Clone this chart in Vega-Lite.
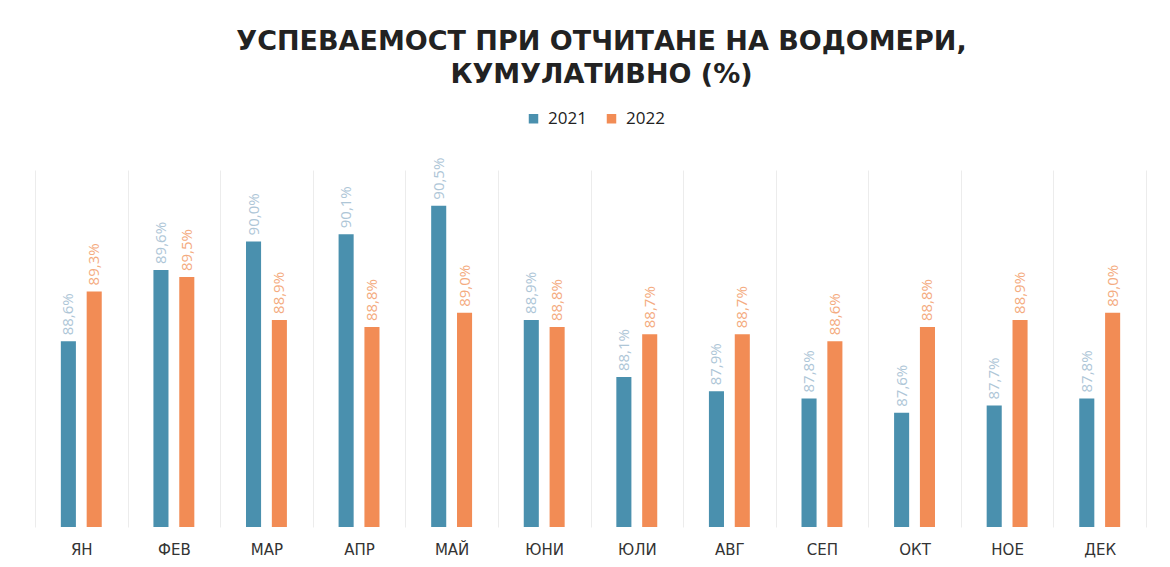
{
  "$schema": "https://vega.github.io/schema/vega-lite/v6.json",
  "width": 1111,
  "height": 357,
  "autosize": "none",
  "padding": {"left": 35, "top": 170, "right": 24, "bottom": 40},
  "background": "white",
  "config": {
    "locale": {"number": {"decimal": ",", "thousands": " ", "grouping": [3], "currency": ["", ""]}},
    "view": {"stroke": null},
    "font": "Open Sans"
  },
  "title": {
    "text": ["УСПЕВАЕМОСТ ПРИ ОТЧИТАНЕ НА ВОДОМЕРИ,", "КУМУЛАТИВНО (%)"],
    "anchor": "middle",
    "frame": "group",
    "font": "DejaVu Sans",
    "fontSize": 27,
    "fontWeight": "bold",
    "color": "#222222",
    "lineHeight": 33,
    "offset": 21,
    "dx": 11
  },
  "data": {
    "values": [
      {"month": "ЯН", "year": "2021", "value": 0.886},
      {"month": "ФЕВ", "year": "2021", "value": 0.896},
      {"month": "МАР", "year": "2021", "value": 0.900},
      {"month": "АПР", "year": "2021", "value": 0.901},
      {"month": "МАЙ", "year": "2021", "value": 0.905},
      {"month": "ЮНИ", "year": "2021", "value": 0.889},
      {"month": "ЮЛИ", "year": "2021", "value": 0.881},
      {"month": "АВГ", "year": "2021", "value": 0.879},
      {"month": "СЕП", "year": "2021", "value": 0.878},
      {"month": "ОКТ", "year": "2021", "value": 0.876},
      {"month": "НОЕ", "year": "2021", "value": 0.877},
      {"month": "ДЕК", "year": "2021", "value": 0.878},
      {"month": "ЯН", "year": "2022", "value": 0.893},
      {"month": "ФЕВ", "year": "2022", "value": 0.895},
      {"month": "МАР", "year": "2022", "value": 0.889},
      {"month": "АПР", "year": "2022", "value": 0.888},
      {"month": "МАЙ", "year": "2022", "value": 0.890},
      {"month": "ЮНИ", "year": "2022", "value": 0.888},
      {"month": "ЮЛИ", "year": "2022", "value": 0.887},
      {"month": "АВГ", "year": "2022", "value": 0.887},
      {"month": "СЕП", "year": "2022", "value": 0.886},
      {"month": "ОКТ", "year": "2022", "value": 0.888},
      {"month": "НОЕ", "year": "2022", "value": 0.889},
      {"month": "ДЕК", "year": "2022", "value": 0.890}
    ]
  },
  "encoding": {
    "x": {
      "field": "month",
      "type": "nominal",
      "sort": null,
      "scale": {"paddingInner": 0, "paddingOuter": 0},
      "axis": {
        "title": null,
        "labelAngle": 0,
        "labelFont": "DejaVu Sans",
        "labelFontSize": 15,
        "labelColor": "#333333",
        "labelPadding": 15,
        "labelBaseline": "top",
        "labelAlign": "center",
        "labelLimit": 200,
        "labelOverlap": false,
        "ticks": false,
        "domain": false,
        "grid": true,
        "gridColor": "#ececec",
        "tickBand": "extent"
      }
    },
    "xOffset": {
      "field": "year",
      "type": "nominal",
      "scale": {"paddingInner": 0.417, "paddingOuter": 1.14}
    },
    "y": {
      "field": "value",
      "type": "quantitative",
      "scale": {"domain": [0.86, 0.91], "zero": false, "nice": false},
      "axis": null
    }
  },
  "layer": [
    {
      "mark": {"type": "bar", "clip": true},
      "encoding": {
        "color": {
          "field": "year",
          "type": "nominal",
          "scale": {"domain": ["2021", "2022"], "range": ["#4a90ae", "#f28c55"]},
          "legend": {
            "title": null,
            "orient": "none",
            "direction": "horizontal",
            "legendX": 490,
            "legendY": -60,
            "symbolType": "square",
            "symbolSize": 90,
            "symbolStrokeWidth": 0,
            "labelFontSize": 17,
            "labelColor": "#222222",
            "columnPadding": 16,
            "labelOffset": 6
          }
        }
      }
    },
    {
      "mark": {"type": "text", "angle": -90, "align": "left", "baseline": "middle", "dx": 6, "fontSize": 15},
      "encoding": {
        "text": {"field": "value", "type": "quantitative", "format": ".1%"},
        "color": {
          "field": "year",
          "type": "nominal",
          "scale": {"domain": ["2021", "2022"], "range": ["#aec6d7", "#f4ab80"]},
          "legend": null
        }
      }
    }
  ],
  "resolve": {"scale": {"color": "independent"}}
}
